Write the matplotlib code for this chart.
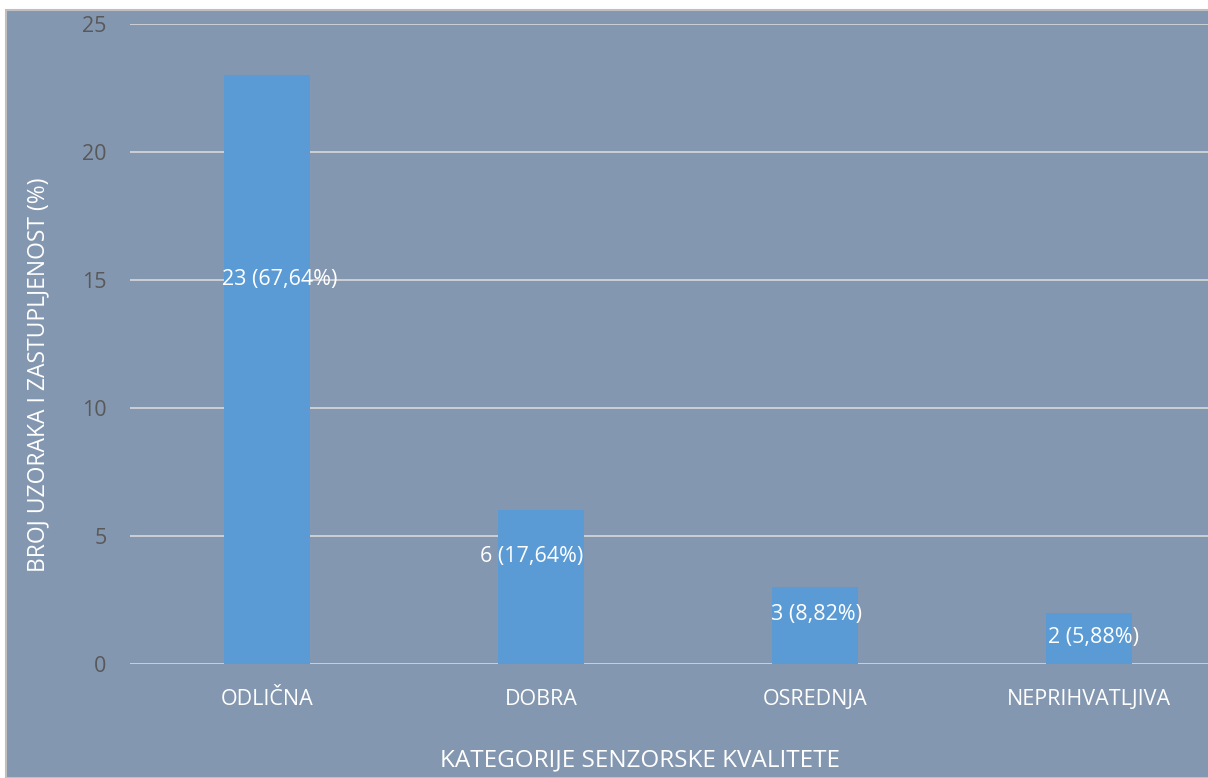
import matplotlib
matplotlib.use('agg')
import matplotlib.pyplot as plt
from matplotlib.patches import Rectangle

categories = ['ODLIČNA', 'DOBRA', 'OSREDNJA', 'NEPRIHVATLJIVA']
counts = [23, 6, 3, 2]
labels = ['23 (67,64%)', '6 (17,64%)', '3 (8,82%)', '2 (5,88%)']
label_y = [15.0, 4.2, 1.95, 1.05]
label_dx = [0.045, -0.035, 0.005, 0.015]
yticks = [0, 5, 10, 15, 20, 25]

plt.rcParams['font.family'] = ['Open Sans', 'DejaVu Sans']

bg = '#8497B0'
fs = 15.5
fig = plt.figure(figsize=(12.08, 7.78), dpi=100)
fig.patch.set_facecolor('white')
# chart area with thin gray border
fig.patches.append(Rectangle((6/1208, 0), 1.0, 768/778, transform=fig.transFigure,
                             facecolor=bg, edgecolor='#BFBFBF', linewidth=1.5, zorder=-10))

ax = fig.add_axes([130/1208, 114/778, 1096/1208, 640/778])
ax.set_facecolor('none')
ax.set_zorder(5)
x = range(len(categories))
ax.bar(x, counts, width=0.314, color='#5B9BD5', zorder=3)
for i, (lab, ly, dx) in enumerate(zip(labels, label_y, label_dx)):
    ax.text(i + dx, ly, lab, ha='center', va='center', color='white', fontsize=fs, zorder=4)

ax.set_xlim(-0.5, 3.5)
ax.set_ylim(0, 25)
ax.set_yticks(yticks)
ax.yaxis.grid(True, color='#D9D9D9', linewidth=1.2, zorder=1)
ax.set_axisbelow(True)
for s in ax.spines.values():
    s.set_visible(False)
ax.tick_params(axis='both', length=0)
ax.tick_params(axis='y', colors='#595959', labelsize=fs, pad=17)
ax.set_xticks(list(x))
ax.set_xticklabels(categories, color='white', fontsize=fs)
ax.tick_params(axis='x', pad=18)
ax.set_xlabel('KATEGORIJE SENZORSKE KVALITETE', color='white', fontsize=17.5)
ax.xaxis.set_label_coords((640 - 130) / 1096, -(748 - 664) / 640)
ax.set_ylabel('BROJ UZORAKA I ZASTUPLJENOST (%)', color='white', fontsize=16.5)
ax.yaxis.set_label_coords(-(130 - 50) / 1096, (664 - 375) / 640)

fig.savefig('out.png', dpi=100)
